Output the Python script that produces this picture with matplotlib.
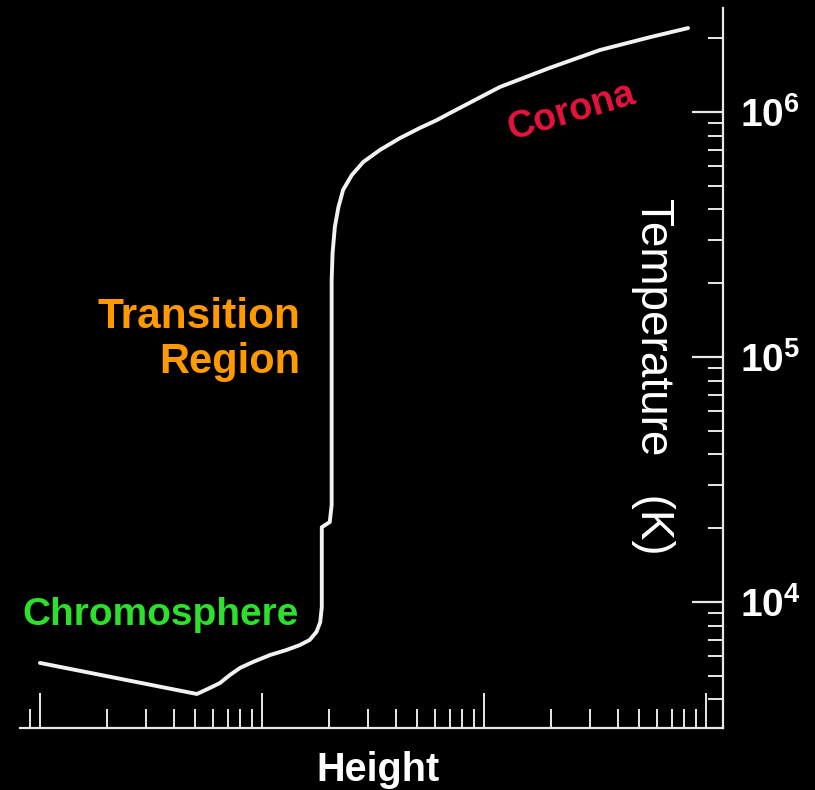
import matplotlib.pyplot as plt
from matplotlib.ticker import FixedLocator, NullFormatter, FixedFormatter

# temperature profile of the solar atmosphere, height in arbitrary log units
height = [1.0, 5.09, 5.83, 6.47, 7.17, 7.96, 9.10, 10.9, 12.9, 14.8, 16.4,
          17.6, 18.3, 18.6, 18.6, 20.2, 20.6, 20.6, 20.8, 21.3, 22.1, 23.2,
          25.4, 28.6, 34.0, 41.9, 51.5, 61.4, 70.3, 118, 198, 333, 560, 830]
temperature = [5640, 4213, 4460, 4670, 5036, 5380, 5690, 6080, 6370, 6670,
               7000, 7550, 8280, 9550, 20200, 21200, 24900, 206000, 266000,
               340000, 409000, 481000, 553000, 625000, 700000, 783000,
               861000, 927000, 990000, 1.265e6, 1.514e6, 1.79e6, 2.02e6, 2.20e6]

x_major = [1, 10, 100, 1000]
x_minor = [0.9] + [k * 10**d for d in range(3) for k in range(2, 10)]
y_major = [1e4, 1e5, 1e6]
y_labels = [r"$10^{4}$", r"$10^{5}$", r"$10^{6}$"]
y_minor = [k * 10**d for d in range(3, 7) for k in range(2, 10)]

plt.rcParams['mathtext.fontset'] = 'custom'
plt.rcParams['mathtext.rm'] = 'Liberation Sans:bold'
plt.rcParams['mathtext.it'] = 'Liberation Sans:bold'
plt.rcParams['mathtext.bf'] = 'Liberation Sans:bold'

fig = plt.figure(figsize=(8.15, 7.90), dpi=100, facecolor='black')
ax = fig.add_axes([20 / 815, 62 / 790, 703 / 815, 720 / 790])
ax.set_facecolor('black')

ax.plot(height, temperature, color='#f2f2f2', lw=2.8, solid_capstyle='round',
        solid_joinstyle='round')

ax.set_xscale('log')
ax.set_yscale('log')
ax.set_xlim(0.813, 1193)
ax.set_ylim(3060, 2.657e6)

ax.xaxis.set_major_locator(FixedLocator(x_major))
ax.xaxis.set_minor_locator(FixedLocator(x_minor))
ax.xaxis.set_major_formatter(NullFormatter())
ax.xaxis.set_minor_formatter(NullFormatter())
ax.yaxis.set_major_locator(FixedLocator(y_major))
ax.yaxis.set_major_formatter(FixedFormatter(y_labels))
ax.yaxis.set_minor_locator(FixedLocator(y_minor))
ax.yaxis.set_minor_formatter(NullFormatter())
ax.yaxis.tick_right()

for side in ['top', 'left']:
    ax.spines[side].set_visible(False)
for side in ['bottom', 'right']:
    ax.spines[side].set_color('#e8e8e8')
    ax.spines[side].set_linewidth(1.6)

ax.tick_params(axis='x', which='major', direction='in', length=25, width=1.4, color='#e8e8e8')
ax.tick_params(axis='x', which='minor', direction='in', length=13.5, width=1.4, color='#e8e8e8')
ax.tick_params(axis='y', which='major', direction='in', length=22, width=1.6, color='#e8e8e8',
               labelcolor='white', labelsize=28, pad=12)
ax.tick_params(axis='y', which='minor', direction='in', length=11, width=1.4, color='#e8e8e8')

bold = dict(fontweight='bold', family=['Liberation Sans', 'DejaVu Sans'])
fig.text(22 / 815, 1 - 625 / 790, 'Chromosphere', color='#2ee02e', fontsize=28,
         ha='left', va='baseline', **bold)
fig.text(300 / 815, 1 - 328 / 790, 'Transition', color='#ff9900', fontsize=30.5,
         ha='right', va='baseline', **bold)
fig.text(300 / 815, 1 - 373 / 790, 'Region', color='#ff9900', fontsize=30,
         ha='right', va='baseline', **bold)
fig.text(572 / 815, 1 - 112 / 790, 'Corona', color='#e6143c', fontsize=27,
         ha='center', va='center', rotation=16.5, rotation_mode='anchor', **bold)

fig.text(378 / 815, 1 - 781 / 790, 'Height', color='white', fontsize=28.5,
         ha='center', va='baseline', **bold)
fig.text(653 / 815, 1 - 376 / 790, 'Temperature   (K)', color='white', fontsize=33,
         ha='center', va='center', rotation=270, family='Liberation Sans')

fig.savefig('out.png', dpi=100, facecolor='black')
